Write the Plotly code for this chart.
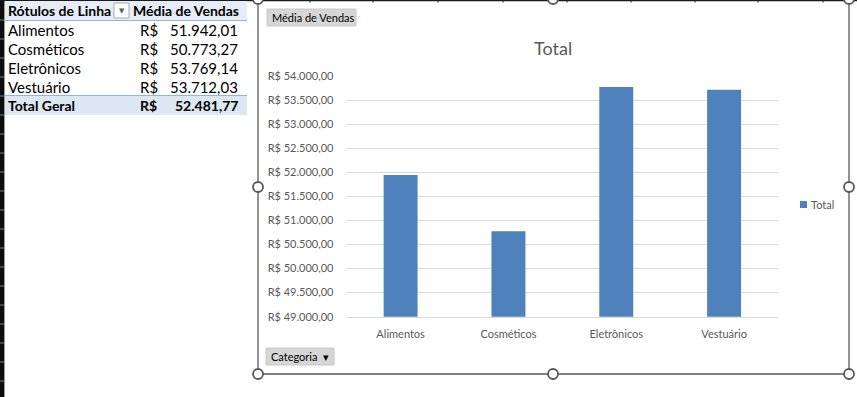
import plotly.graph_objects as go

# ---- data ----
categories = ["Alimentos", "Cosméticos", "Eletrônicos", "Vestuário"]
avg_sales = [51942.01, 50773.27, 53769.14, 53712.03]
total_label = "Total Geral"
total_avg = 52481.77
series_name = "Total"
value_field = "Média de Vendas"
row_field_header = "Rótulos de Linha"
axis_field = "Categoria"
y_tickvals = [49000, 49500, 50000, 50500, 51000, 51500, 52000, 52500, 53000, 53500, 54000]
y_ticktext = ["R$ 49.000,00", "R$ 49.500,00", "R$ 50.000,00", "R$ 50.500,00", "R$ 51.000,00",
              "R$ 51.500,00", "R$ 52.000,00", "R$ 52.500,00", "R$ 53.000,00", "R$ 53.500,00",
              "R$ 54.000,00"]


def brl(v):
    s = f"{v:,.2f}"
    return s.replace(",", "X").replace(".", ",").replace("X", ".")


W, H = 857, 397


def px(x):
    return x / W


def py(y):
    return 1 - y / H


GRAY = "#595959"
BAR_COLOR = "#4F81BD"
CHART_FONT = "Lato"

fig = go.Figure()
fig.add_trace(go.Bar(
    x=categories, y=avg_sales, name=series_name,
    marker=dict(color=BAR_COLOR, line=dict(width=0)),
    showlegend=False,
))

shapes = []
annotations = []

# ---- spreadsheet background bits ----
shapes.append(dict(type="rect", xref="paper", yref="paper", x0=px(0), x1=px(4), y0=py(397), y1=py(0),
                   fillcolor="#0D0D0D", line=dict(width=0), layer="below"))
shapes.append(dict(type="line", xref="paper", yref="paper", x0=px(4.5), x1=px(4.5), y0=py(397), y1=py(0),
                   line=dict(color="#9A9A9A", width=1), layer="below"))
for k in range(21):
    yy = 20 + 19 * k
    shapes.append(dict(type="line", xref="paper", yref="paper", x0=px(0), x1=px(4), y0=py(yy), y1=py(yy),
                       line=dict(color="#7F7F7F", width=1), layer="below"))
shapes.append(dict(type="line", xref="paper", yref="paper", x0=px(0), x1=px(857), y0=py(0.5), y1=py(0.5),
                   line=dict(color="#1A1A1A", width=1.5), layer="below"))
for xx in [246, 310, 373, 438, 503, 567, 631, 695, 758, 823]:
    shapes.append(dict(type="line", xref="paper", yref="paper", x0=px(xx), x1=px(xx), y0=py(0), y1=py(2.5),
                       line=dict(color="#1A1A1A", width=1), layer="below"))

# ---- pivot table ----
TFONT = "Lato"
shapes.append(dict(type="rect", xref="paper", yref="paper", x0=px(5), x1=px(247), y0=py(20), y1=py(1),
                   fillcolor="#E6EDF6", line=dict(width=0), layer="below"))
shapes.append(dict(type="rect", xref="paper", yref="paper", x0=px(5), x1=px(247), y0=py(115), y1=py(96),
                   fillcolor="#DDE7F2", line=dict(width=0), layer="below"))
shapes.append(dict(type="line", xref="paper", yref="paper", x0=px(5), x1=px(247), y0=py(20.5), y1=py(20.5),
                   line=dict(color="#95B3D7", width=1), layer="below"))
shapes.append(dict(type="line", xref="paper", yref="paper", x0=px(5), x1=px(247), y0=py(95.5), y1=py(95.5),
                   line=dict(color="#95B3D7", width=1), layer="below"))
# filter dropdown button
shapes.append(dict(type="rect", xref="paper", yref="paper", x0=px(114), x1=px(129), y0=py(18), y1=py(3),
                   fillcolor="#FFFFFF", line=dict(color="#ABABAB", width=1), layer="below"))
annotations.append(dict(x=px(121.5), y=py(11), xref="paper", yref="paper", text="▼", showarrow=False,
                        xanchor="center", yanchor="middle", font=dict(family="DejaVu Sans", size=7, color="#606060")))

BOLD_SIZE = 14
REG_SIZE = 15
annotations.append(dict(x=px(6), y=py(10.5), xref="paper", yref="paper", text=f"<b>{row_field_header}</b>",
                        showarrow=False, xanchor="left", yanchor="middle",
                        font=dict(family=TFONT, size=BOLD_SIZE, color="#000000")))
annotations.append(dict(x=px(241), y=py(10.5), xref="paper", yref="paper", text=f"<b>{value_field}</b>",
                        showarrow=False, xanchor="right", yanchor="middle",
                        font=dict(family=TFONT, size=BOLD_SIZE, color="#000000")))
rows = list(zip(categories, avg_sales))
for i, (c, v) in enumerate(rows):
    yy = 30 + 19 * i
    annotations.append(dict(x=px(6), y=py(yy), xref="paper", yref="paper", text=c, showarrow=False,
                            xanchor="left", yanchor="middle", font=dict(family=TFONT, size=REG_SIZE, color="#000000")))
    annotations.append(dict(x=px(138), y=py(yy), xref="paper", yref="paper", text="R$", showarrow=False,
                            xanchor="left", yanchor="middle", font=dict(family=TFONT, size=REG_SIZE, color="#000000")))
    annotations.append(dict(x=px(240), y=py(yy), xref="paper", yref="paper", text=brl(v), showarrow=False,
                            xanchor="right", yanchor="middle", font=dict(family=TFONT, size=REG_SIZE, color="#000000")))
yy = 30 + 19 * len(rows)
annotations.append(dict(x=px(6), y=py(yy), xref="paper", yref="paper", text=f"<b>{total_label}</b>",
                        showarrow=False, xanchor="left", yanchor="middle",
                        font=dict(family=TFONT, size=BOLD_SIZE, color="#000000")))
annotations.append(dict(x=px(138), y=py(yy), xref="paper", yref="paper", text="<b>R$</b>", showarrow=False,
                        xanchor="left", yanchor="middle", font=dict(family=TFONT, size=BOLD_SIZE, color="#000000")))
annotations.append(dict(x=px(240), y=py(yy), xref="paper", yref="paper", text=f"<b>{brl(total_avg)}</b>",
                        showarrow=False, xanchor="right", yanchor="middle",
                        font=dict(family=TFONT, size=BOLD_SIZE, color="#000000")))

# ---- chart frame + handles ----
shapes.append(dict(type="rect", xref="paper", yref="paper", x0=px(258), x1=px(849), y0=py(374), y1=py(-1),
                   fillcolor="rgba(0,0,0,0)", line=dict(color=GRAY, width=1.3)))
for (cx, cy) in [(258, -1), (553, -1), (849, -1), (258, 187), (849, 187), (258, 374), (553, 374), (849, 374)]:
    shapes.append(dict(type="circle", xref="paper", yref="paper", x0=px(cx - 5), x1=px(cx + 5),
                       y0=py(cy + 5), y1=py(cy - 5), fillcolor="#FFFFFF", line=dict(color=GRAY, width=1.8)))

# chart title
annotations.append(dict(x=px(553), y=py(48), xref="paper", yref="paper", text=series_name, showarrow=False,
                        xanchor="center", yanchor="middle", font=dict(family=CHART_FONT, size=18, color=GRAY)))

# legend (series key)
shapes.append(dict(type="rect", xref="paper", yref="paper", x0=px(800), x1=px(807), y0=py(208), y1=py(201),
                   fillcolor=BAR_COLOR, line=dict(width=0)))
annotations.append(dict(x=px(809), y=py(204.5), xref="paper", yref="paper", text=series_name, showarrow=False,
                        xanchor="left", yanchor="middle", font=dict(family=CHART_FONT, size=11, color=GRAY)))

# pivot field buttons
shapes.append(dict(type="rect", xref="paper", yref="paper", x0=px(267), x1=px(356), y0=py(26), y1=py(9),
                   fillcolor="#D6D6D6", line=dict(color="#C8C8C8", width=1)))
annotations.append(dict(x=px(270), y=py(17.5), xref="paper", yref="paper", text=value_field, showarrow=False,
                        xanchor="left", yanchor="middle", font=dict(family=CHART_FONT, size=11, color="#000000")))
shapes.append(dict(type="rect", xref="paper", yref="paper", x0=px(266), x1=px(334), y0=py(365), y1=py(348),
                   fillcolor="#D6D6D6", line=dict(color="#C8C8C8", width=1)))
annotations.append(dict(x=px(269), y=py(356.5), xref="paper", yref="paper", text=axis_field + "  ▾",
                        showarrow=False, xanchor="left", yanchor="middle",
                        font=dict(family=CHART_FONT, size=11, color="#000000")))

fig.update_layout(
    width=W, height=H, autosize=False,
    margin=dict(l=0, r=0, t=0, b=0, pad=0, autoexpand=False),
    paper_bgcolor="#FFFFFF", plot_bgcolor="#FFFFFF",
    font=dict(family=CHART_FONT, size=11, color=GRAY),
    showlegend=False,
    bargap=0.685,
    xaxis=dict(domain=[px(346.7), px(778)], type="category", range=[-0.5, 3.5], automargin=False,
               showgrid=False, showline=True, linecolor="#D9D9D9", linewidth=1,
               ticks="outside", ticklen=7, tickcolor="rgba(0,0,0,0)",
               tickfont=dict(family=CHART_FONT, size=11, color=GRAY), fixedrange=True),
    yaxis=dict(domain=[py(316.7), py(76)], range=[49000, 54000], automargin=False,
               tickvals=y_tickvals, ticktext=y_ticktext,
               showgrid=True, gridcolor="#D9D9D9", gridwidth=1, zeroline=False, showline=False,
               ticks="outside", ticklen=10, tickcolor="rgba(0,0,0,0)",
               tickfont=dict(family=CHART_FONT, size=11, color=GRAY), fixedrange=True),
    shapes=shapes,
    annotations=annotations,
)

fig.write_html("out.html", config={"displayModeBar": False, "staticPlot": True},
               post_script="document.body.style.margin='0';document.body.style.overflow='hidden';")
